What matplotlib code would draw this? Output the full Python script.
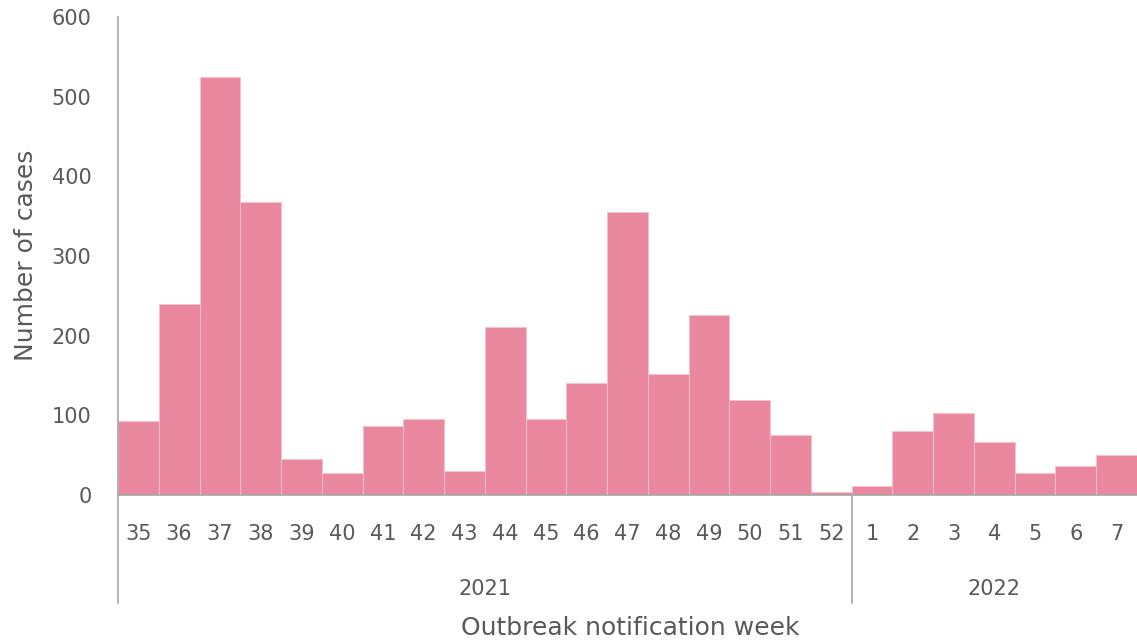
import matplotlib
matplotlib.use("Agg")
import matplotlib.pyplot as plt
from matplotlib.lines import Line2D

weeks = ["35", "36", "37", "38", "39", "40", "41", "42", "43", "44", "45", "46",
         "47", "48", "49", "50", "51", "52", "1", "2", "3", "4", "5", "6", "7"]
cases = [93, 240, 525, 368, 45, 27, 87, 95, 30, 211, 96, 140,
         355, 152, 226, 119, 75, 4, 11, 80, 103, 67, 27, 37, 50]
years = ["2021", "2022"]
year_counts = [18, 7]
y_ticks = [0, 100, 200, 300, 400, 500, 600]

plt.rcParams['font.family'] = ['DejaVu Sans']
text_color = "#595959"
axis_color = "#A6A6A6"
bar_color = "#E9889F"

W, H = 1137, 643
fig = plt.figure(figsize=(W / 100, H / 100), dpi=100)
ax = fig.add_axes([118/W, 1-495/H, 1-118/W, (495-17)/H])

x = list(range(len(weeks)))
ax.bar(x, cases, width=1.0, color=bar_color, edgecolor="#F3C2CE", linewidth=0.6)

ax.set_xlim(-0.5, len(weeks) - 0.5)
ax.set_ylim(0, 600)
ax.set_yticks(y_ticks)
ax.set_yticklabels([str(v) for v in y_ticks], fontsize=15, color=text_color)
ax.tick_params(axis='y', length=0, pad=19)
ax.set_xticks(x)
ax.set_xticklabels(weeks, fontsize=15, color=text_color)
ax.tick_params(axis='x', length=0, pad=21)

for s in ["top", "right"]:
    ax.spines[s].set_visible(False)
for s in ["left", "bottom"]:
    ax.spines[s].set_color(axis_color)
    ax.spines[s].set_linewidth(1.2)

trans = ax.get_xaxis_transform()
def ypix(p):
    return -(p - 495) / (495 - 17)

start = 0
boundaries = [start]
for c in year_counts:
    start += c
    boundaries.append(start)
for b in boundaries[:-1]:
    ax.add_line(Line2D([b - 0.5, b - 0.5], [0, ypix(603)], transform=trans,
                       color=axis_color, linewidth=1.2, clip_on=False))
for i, yr in enumerate(years):
    center = (boundaries[i] + boundaries[i + 1] - 1) / 2
    ax.text(center, ypix(595), yr, transform=trans, ha='center', va='baseline',
            fontsize=15, color=text_color)

fig.text(630 / W, 1 - 635 / H, "Outbreak notification week",
         ha='center', va='baseline', fontsize=18, color=text_color)
fig.text(26 / W, 1 - 255 / H, "Number of cases", rotation=90,
         ha='center', va='center', fontsize=18, color=text_color)

fig.savefig("out.png", dpi=100)
